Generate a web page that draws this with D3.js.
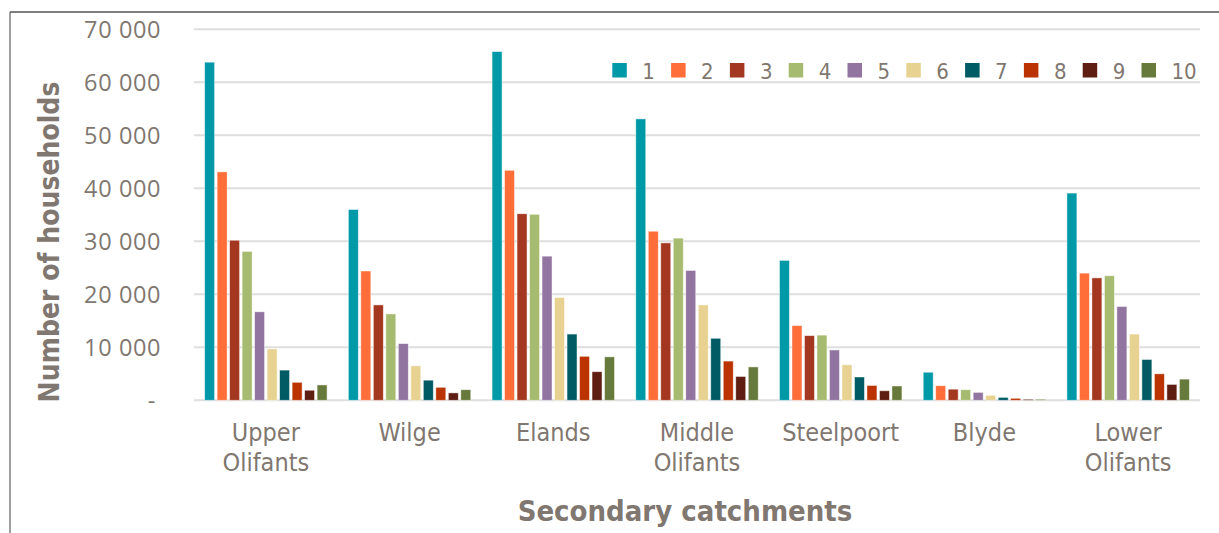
<!DOCTYPE html>
<html>
<head>
<meta charset="utf-8">
<script src="https://cdn.jsdelivr.net/npm/d3@7"></script>
<style>
  html, body { margin: 0; padding: 0; background: #fff; }
  svg { display: block; }
  text { font-family: "DejaVu Sans Condensed", "Liberation Sans Narrow", "Open Sans", sans-serif; }
</style>
</head>
<body>
<svg id="chart" width="1219" height="533"></svg>
<script>
const categories = ["Upper Olifants", "Wilge", "Elands", "Middle Olifants", "Steelpoort", "Blyde", "Lower Olifants"];
const seriesNames = ["1", "2", "3", "4", "5", "6", "7", "8", "9", "10"];
const colors = ["#0099a8", "#ff6d38", "#a4371f", "#a7bb70", "#9274a0", "#e8d292", "#005b64", "#ba3300", "#5e1f12", "#687a3b"];
// values per category, one entry per series 1..10
const upperOlifants  = [63800, 43100, 30200, 28100, 16700, 9700, 5700, 3400, 1900, 2900];
const wilge          = [36000, 24400, 18000, 16300, 10700, 6500, 3800, 2450, 1400, 2000];
const elands         = [65800, 43400, 35200, 35100, 27200, 19400, 12500, 8300, 5400, 8200];
const middleOlifants = [53100, 31900, 29700, 30600, 24500, 18000, 11700, 7400, 4500, 6300];
const steelpoort     = [26400, 14100, 12200, 12300, 9500, 6700, 4400, 2800, 1800, 2700];
const blyde          = [5300, 2750, 2100, 2000, 1500, 950, 550, 380, 200, 200];
const lowerOlifants  = [39100, 24000, 23100, 23500, 17700, 12500, 7700, 5000, 3000, 4000];
const yTicks = [0, 10000, 20000, 30000, 40000, 50000, 60000, 70000];

const valuesByCat = [upperOlifants, wilge, elands, middleOlifants, steelpoort, blyde, lowerOlifants];
const data = categories.map((c, i) => ({ cat: c, vals: valuesByCat[i].map((v, j) => ({ s: seriesNames[j], v, color: colors[j] })) }));

const svg = d3.select("#chart");
const textColor = "#7f7770";
const plotL = 194, plotR = 1200, plotT = 29.3, plotB = 400.3;

// frame
svg.append("line").attr("x1", 10).attr("x2", 10).attr("y1", 12).attr("y2", 533).attr("stroke", "#6b6b6b").attr("stroke-width", 1.3);
svg.append("line").attr("x1", 10).attr("x2", 1219).attr("y1", 12).attr("y2", 12).attr("stroke", "#555").attr("stroke-width", 1.6);

const x0 = d3.scaleBand().domain(categories).range([plotL, plotR]).paddingInner(0).paddingOuter(0);
const x1 = d3.scaleBand().domain(seriesNames).range([0, x0.bandwidth()]).paddingInner(0.2).paddingOuter(0.85);
const y = d3.scaleLinear().domain([0, 70000]).range([plotB, plotT]);

const loc = d3.formatLocale({ decimal: ".", thousands: " ", grouping: [3], currency: ["", ""] });
const fmt = loc.format(",d");

// gridlines
svg.append("g").selectAll("line").data(yTicks).join("line")
  .attr("x1", plotL).attr("x2", plotR)
  .attr("y1", d => y(d)).attr("y2", d => y(d))
  .attr("stroke", "#dedede").attr("stroke-width", 2);

// y axis labels
const yAxis = d3.axisLeft(y).tickValues(yTicks).tickSize(0).tickPadding(0).tickFormat(d => d === 0 ? "-" : fmt(d));
const yg = svg.append("g").attr("transform", `translate(161,0)`).call(yAxis);
yg.select(".domain").remove();
yg.selectAll("text").attr("fill", textColor).style("font-size", "23.5px").style("letter-spacing", "0.6px")
  .style("font-family", '"Open Sans", sans-serif').attr("dy", "0.35em");
yg.selectAll(".tick").filter(d => d === 0).select("text").attr("dx", "-5");

// bars
const groups = svg.append("g").selectAll("g").data(data).join("g")
  .attr("transform", d => `translate(${x0(d.cat)},0)`);
groups.selectAll("rect").data(d => d.vals).join("rect")
  .attr("x", d => x1(d.s))
  .attr("width", x1.bandwidth())
  .attr("y", d => y(d.v))
  .attr("height", d => plotB - y(d.v))
  .attr("fill", d => d.color)
  .attr("stroke", "rgba(255,255,255,0.6)").attr("stroke-width", 0.8);

// x axis labels
const xAxis = d3.axisBottom(x0).tickSize(0).tickPadding(0);
const xg = svg.append("g").attr("transform", `translate(0,${plotB})`).call(xAxis);
xg.select(".domain").remove();
xg.selectAll(".tick text").each(function(d) {
  const t = d3.select(this);
  t.text(null).attr("y", 0).attr("dy", null).attr("fill", textColor).style("font-size", "25px");
  const words = d.split(" ");
  words.forEach((w, i) => t.append("tspan").attr("x", 0).attr("y", 41 + i * 30).text(w));
});

// axis titles
svg.append("text").attr("x", 685).attr("y", 521).attr("text-anchor", "middle")
  .attr("fill", textColor).style("font-size", "29px").style("font-weight", "bold").text("Secondary catchments");
svg.append("text").attr("transform", `translate(59,242) rotate(-90)`).attr("text-anchor", "middle")
  .attr("fill", textColor).style("font-size", "28px").style("font-weight", "bold").text("Number of households");

// legend
const lg = svg.append("g").selectAll("g").data(seriesNames).join("g")
  .attr("transform", (d, i) => `translate(${612.3 + i * 58.8},63)`);
lg.append("rect").attr("width", 14.5).attr("height", 14.5).attr("fill", (d, i) => colors[i]);
lg.append("text").attr("x", 30).attr("y", 16).attr("fill", textColor).style("font-size", "22px").text(d => d);
</script>
</body>
</html>
